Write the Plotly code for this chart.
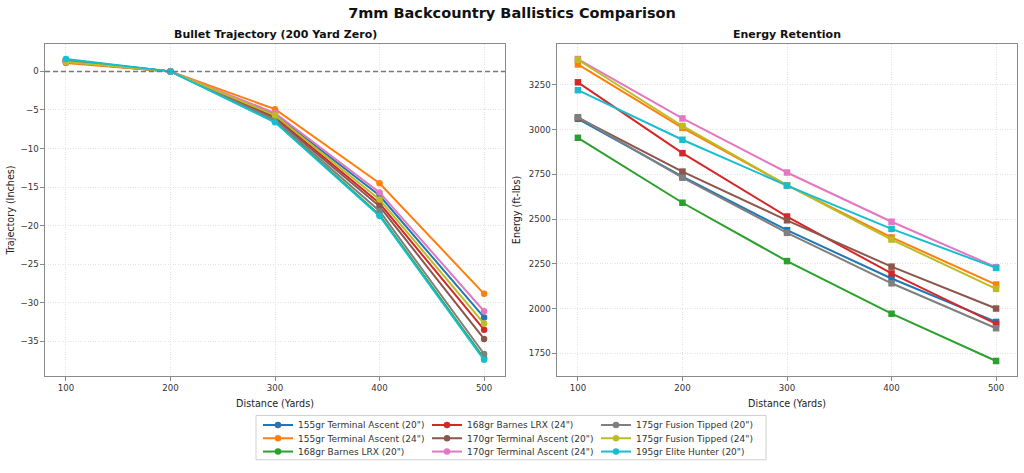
import plotly.graph_objects as go
from plotly.subplots import make_subplots

distances = [100, 200, 300, 400, 500]

labels = [
    '155gr Terminal Ascent (20")',
    '155gr Terminal Ascent (24")',
    '168gr Barnes LRX (20")',
    '168gr Barnes LRX (24")',
    '170gr Terminal Ascent (20")',
    '170gr Terminal Ascent (24")',
    '175gr Fusion Tipped (20")',
    '175gr Fusion Tipped (24")',
    '195gr Elite Hunter (20")',
]

colors = ["#1f77b4", "#ff7f0e", "#2ca02c", "#d62728", "#8c564b",
          "#e377c2", "#7f7f7f", "#bcbd22", "#17becf"]

traj_155_20 = [1.4, 0, -5.6, -16.1, -31.9]
traj_155_24 = [1.1, 0, -4.9, -14.5, -28.85]
traj_168_20 = [1.5, 0, -6.5, -18.6, -37.2]
traj_168_24 = [1.2, 0, -5.9, -17.1, -33.5]
traj_170_20 = [1.3, 0, -6.1, -17.5, -34.7]
traj_170_24 = [1.2, 0, -5.4, -15.7, -31.1]
traj_175_20 = [1.4, 0, -6.3, -18.1, -36.65]
traj_175_24 = [1.2, 0, -5.7, -16.6, -32.7]
traj_195_20 = [1.6, 0, -6.6, -18.75, -37.4]

energy_155_20 = [3061, 2738, 2439, 2169, 1926]
energy_155_24 = [3365, 3010, 2690, 2398, 2135]
energy_168_20 = [2955, 2592, 2266, 1972, 1708]
energy_168_24 = [3265, 2869, 2515, 2197, 1915]
energy_170_20 = [3068, 2766, 2494, 2235, 2001]
energy_170_24 = [3395, 3063, 2761, 2486, 2232]
energy_175_20 = [3070, 2732, 2424, 2142, 1891]
energy_175_24 = [3391, 3021, 2690, 2386, 2111]
energy_195_20 = [3221, 2944, 2688, 2446, 2228]

traj = [traj_155_20, traj_155_24, traj_168_20, traj_168_24, traj_170_20,
        traj_170_24, traj_175_20, traj_175_24, traj_195_20]
energy = [energy_155_20, energy_155_24, energy_168_20, energy_168_24, energy_170_20,
          energy_170_24, energy_175_20, energy_175_24, energy_195_20]

traj_ticks = [0, -5, -10, -15, -20, -25, -30, -35]
energy_ticks = [1750, 2000, 2250, 2500, 2750, 3000, 3250]
x_ticks = [100, 200, 300, 400, 500]

FONT = "DejaVu Sans"
W, H = 1024, 473
ML, MR, MT, MB = 45, 7, 44, 92
PW = W - ML - MR
PH = H - MT - MB

def px_x(p):
    return (p - ML) / PW

def px_y(p):
    return (H - MB - p) / PH

fig = make_subplots(rows=1, cols=2, horizontal_spacing=52 / PW)
fig.update_xaxes(domain=[0, 460 / PW], row=1, col=1)
fig.update_xaxes(domain=[512 / PW, 1], row=1, col=2)

col_text_x = [298, 467, 636]
row_y = [430.7, 444.3, 457.7]

legend_layouts = {}
for i, (lab, col) in enumerate(zip(labels, colors)):
    c, r = divmod(i, 3)
    lname = "legend" if i == 0 else f"legend{i + 1}"
    fig.add_trace(go.Scatter(
        x=distances, y=traj[i], name=lab, mode="lines+markers",
        line=dict(color=col, width=2),
        marker=dict(symbol="circle", size=6.5, color=col),
        legend=lname, showlegend=True,
    ), row=1, col=1)
    legend_layouts[lname] = dict(
        x=px_x(col_text_x[c] - 40), y=px_y(row_y[r]),
        xanchor="left", yanchor="middle",
        bgcolor="rgba(0,0,0,0)", borderwidth=0,
        font=dict(family=FONT, size=9, color="#333"),
        itemwidth=30, tracegroupgap=0,
    )

for i, (lab, col) in enumerate(zip(labels, colors)):
    fig.add_trace(go.Scatter(
        x=distances, y=energy[i], name=lab, mode="lines+markers",
        line=dict(color=col, width=2),
        marker=dict(symbol="square", size=6.5, color=col),
        showlegend=False,
    ), row=1, col=2)

axis_common = dict(
    showline=True, mirror=True, linecolor="#8a8a8a", linewidth=1.2,
    ticks="outside", ticklen=3.5, tickcolor="#8a8a8a", tickwidth=1,
    showgrid=True, gridcolor="#e2e2e2", griddash="1px,1.5px", gridwidth=0.8,
    zeroline=False, automargin=False,
    tickfont=dict(family=FONT, size=8.6, color="#333"),
)

fig.update_xaxes(**axis_common, range=[80, 520], tickvals=x_ticks,
                 title=dict(text="Distance (Yards)", standoff=8,
                            font=dict(family=FONT, size=9.6, color="#222")))
fig.update_yaxes(**axis_common)
fig.update_yaxes(range=[-39.5, 3.55], tickvals=traj_ticks,
                 title=dict(text="Trajectory (Inches)", standoff=4,
                            font=dict(family=FONT, size=9.6, color="#222")),
                 row=1, col=1)
fig.update_yaxes(range=[1624, 3479], tickvals=energy_ticks,
                 title=dict(text="Energy (ft-lbs)", standoff=6,
                            font=dict(family=FONT, size=9.6, color="#222")),
                 row=1, col=2)

# zero reference line
fig.add_shape(type="line", xref="x domain", yref="y", x0=0, x1=1, y0=0, y1=0,
              line=dict(color="#7a7a7a", width=1.5, dash="5px,3px"), layer="above")

# legend frame
fig.add_shape(type="rect", xref="paper", yref="paper",
              x0=px_x(256), x1=px_x(766), y0=px_y(466), y1=px_y(421),
              line=dict(color="#d0d0d0", width=1), fillcolor="rgba(0,0,0,0)")

annotations = [
    dict(text="<b>Bullet Trajectory (200 Yard Zero)</b>", x=230 / PW, y=1,
         xref="paper", yref="paper", xanchor="center", yanchor="bottom", yshift=1,
         showarrow=False, font=dict(family=FONT, size=11, color="#111")),
    dict(text="<b>Energy Retention</b>", x=(512 + 230) / PW, y=1,
         xref="paper", yref="paper", xanchor="center", yanchor="bottom", yshift=1,
         showarrow=False, font=dict(family=FONT, size=11, color="#111")),
]

fig.update_layout(
    width=W, height=H,
    margin=dict(l=ML, r=MR, t=MT, b=MB, pad=0),
    paper_bgcolor="white", plot_bgcolor="white",
    font=dict(family=FONT, color="#333"),
    title=dict(text="<b>7mm Backcountry Ballistics Comparison</b>",
               x=0.5, xref="container", xanchor="center",
               y=1 - 13 / H, yref="container", yanchor="middle",
               font=dict(family=FONT, size=14.5, color="#111")),
    annotations=annotations,
    **legend_layouts,
)

fig.write_html("out.html")
